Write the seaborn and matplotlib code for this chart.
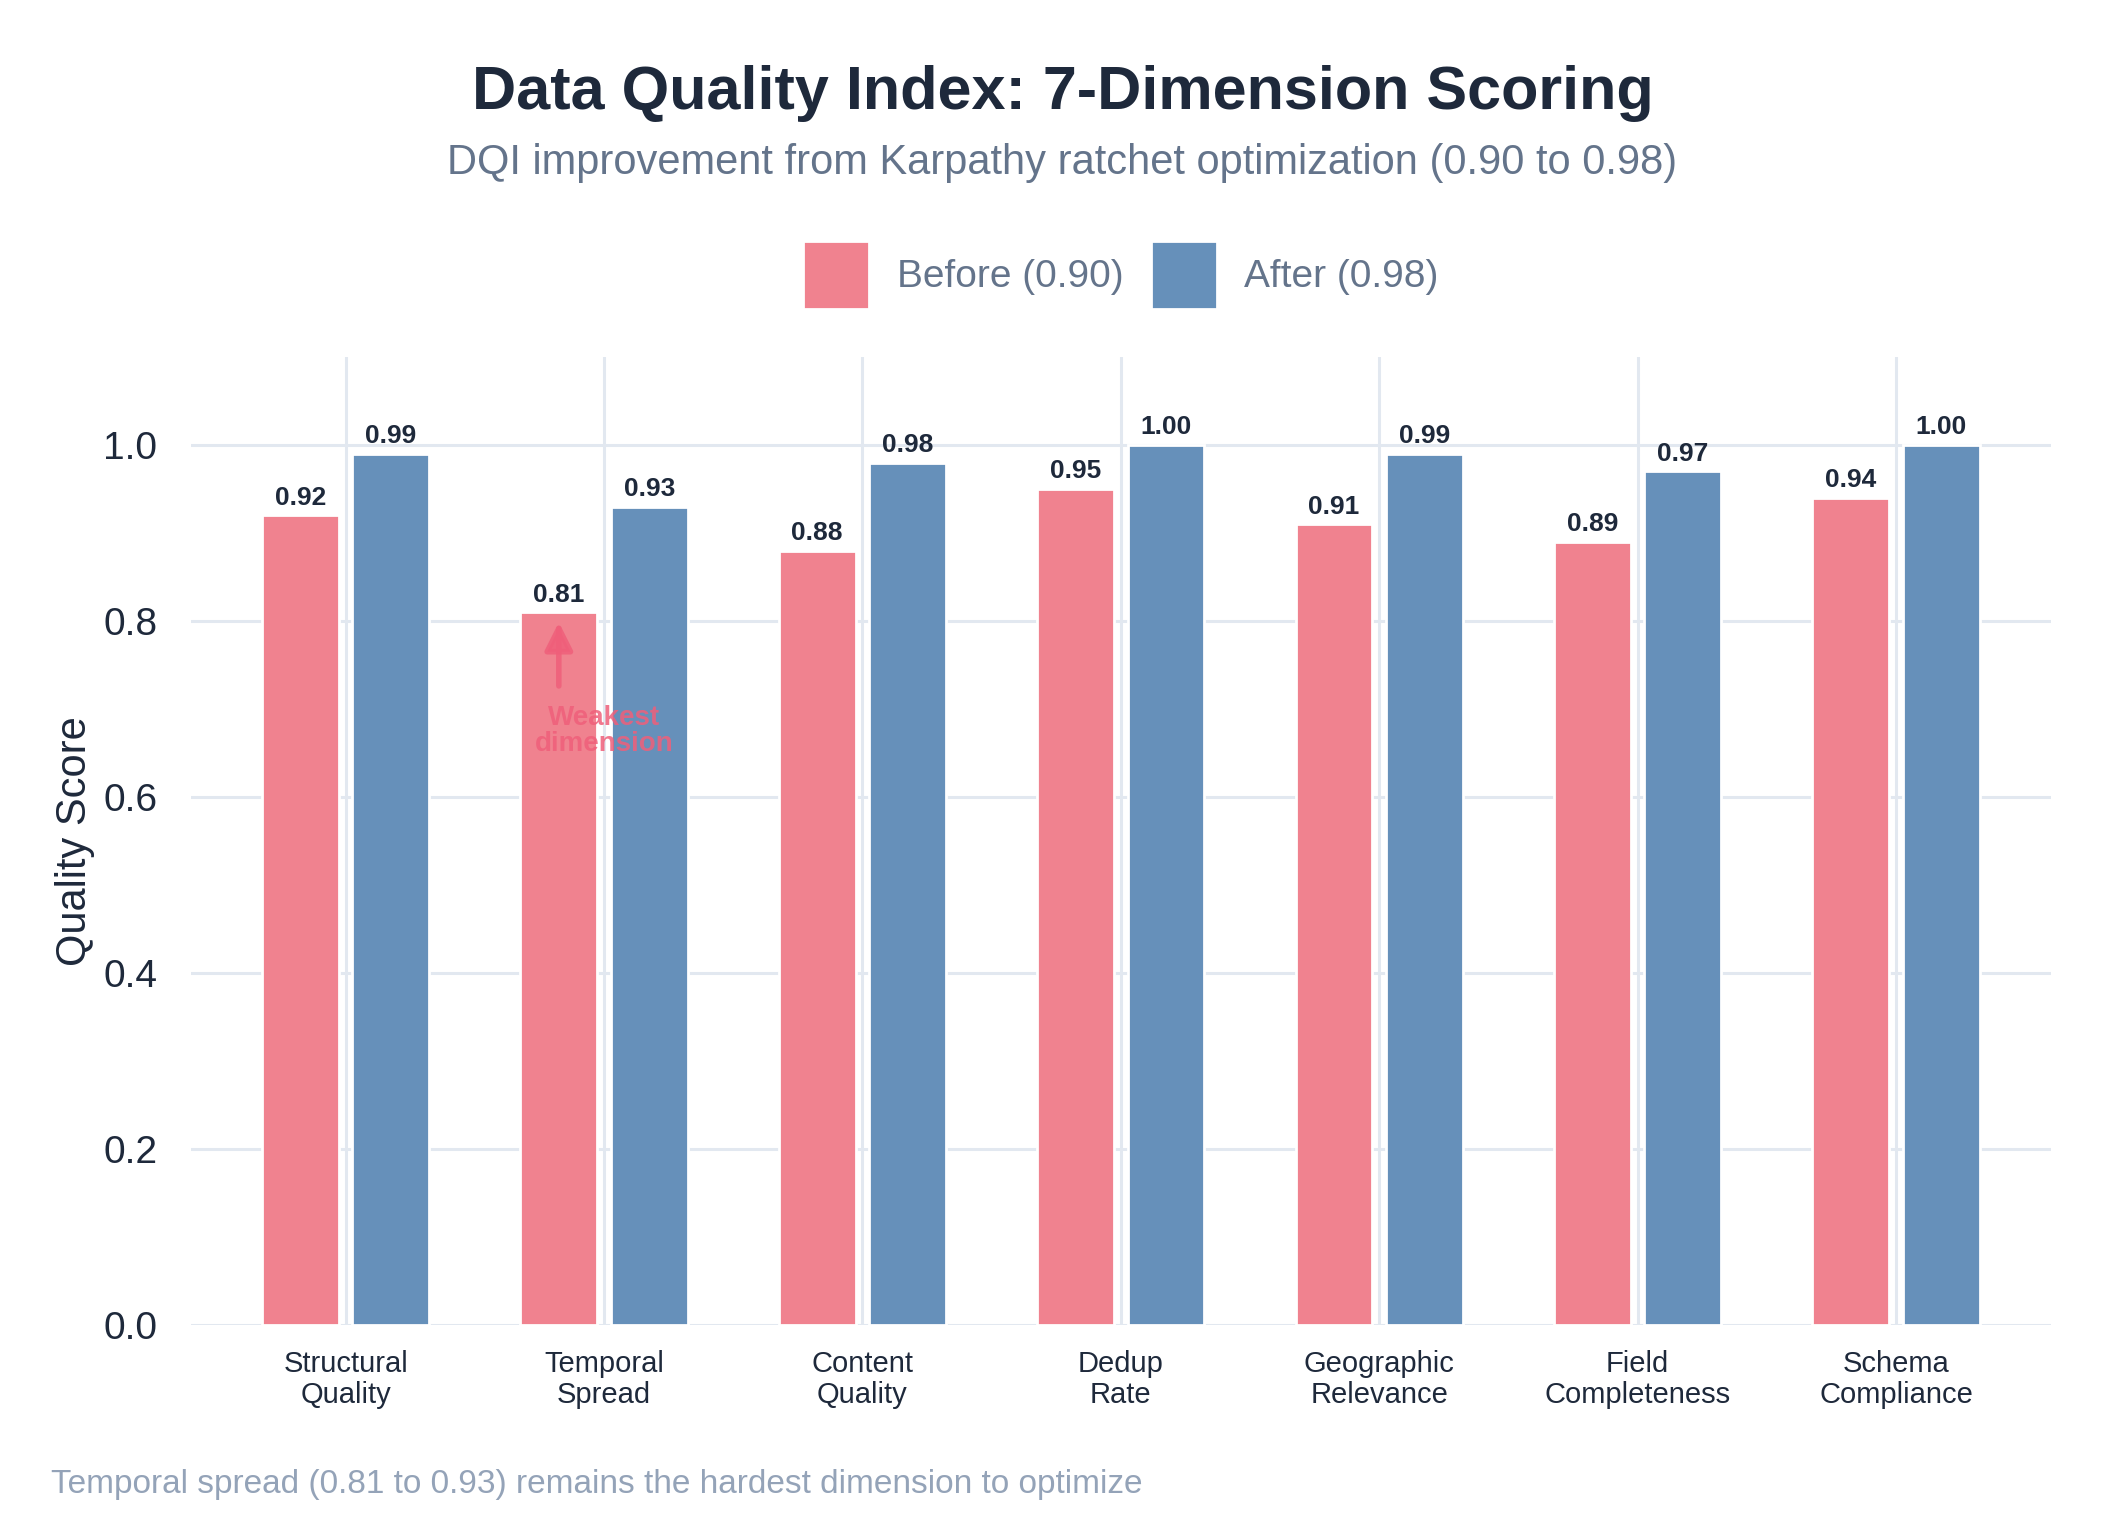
import matplotlib
matplotlib.use("Agg")
import matplotlib.pyplot as plt
import seaborn as sns
import pandas as pd

categories = ["Structural\nQuality", "Temporal\nSpread", "Content\nQuality", "Dedup\nRate",
              "Geographic\nRelevance", "Field\nCompleteness", "Schema\nCompliance"]
before = [0.92, 0.81, 0.88, 0.95, 0.91, 0.89, 0.94]
after = [0.99, 0.93, 0.98, 1.00, 0.99, 0.97, 1.00]
series_names = ["Before (0.90)", "After (0.98)"]
yticks = [0.0, 0.2, 0.4, 0.6, 0.8, 1.0]

sns.set_theme(style="white")
plt.rcParams['font.family'] = ['Liberation Sans', 'DejaVu Sans']

df = pd.DataFrame({
    "Dimension": categories * 2,
    "Score": before + after,
    "Series": [series_names[0]] * len(categories) + [series_names[1]] * len(categories),
})

fig = plt.figure(figsize=(10.625, 7.675), dpi=200)
ax = fig.add_axes([0.0897, 0.1365, 0.8755, 0.631])

palette = {series_names[0]: "#F0828F", series_names[1]: "#6690BA"}
sns.barplot(data=df, x="Dimension", y="Score", hue="Series", palette=palette,
            width=0.7, gap=0.15, ax=ax, saturation=1, zorder=3, legend=True)

ax.set_ylim(0, 1.1)
ax.set_xlim(-0.6, 6.6)
ax.set_yticks(yticks)
ax.set_yticklabels([f"{v:.1f}" for v in yticks], fontsize=14, color="#1e293b")
ax.tick_params(axis="x", labelsize=10.5, colors="#1e293b", length=0, pad=9)
ax.tick_params(axis="y", length=0, pad=12)
for lab in ax.get_xticklabels():
    lab.set_linespacing(1.1)
ax.set_xlabel("")
ax.set_ylabel("Quality Score", fontsize=15, color="#1e293b", labelpad=3)
ax.grid(True, color="#e2e8f0", linewidth=1.1, zorder=0)
ax.set_axisbelow(True)
for s in ax.spines.values():
    s.set_visible(False)

for cont in ax.containers:
    ax.bar_label(cont, fmt="%.2f", padding=2, fontsize=9.5, fontweight="bold", color="#1e293b")

# annotation
ax.annotate("", xy=(1 - 0.175, 0.805), xytext=(1 - 0.175, 0.72),
            arrowprops=dict(arrowstyle="-|>,head_width=0.35,head_length=0.7", color="#EF5F7A",
                            lw=2, alpha=0.85), zorder=5)
ax.text(1.0, 0.675, "Weakest\ndimension", ha="center", va="center", fontsize=10,
        fontweight="bold", color="#EF5F7A", alpha=0.85, linespacing=1.0, zorder=5)

leg = ax.legend(loc="center", ncol=2, frameon=False, fontsize=14,
                handlelength=1.7, handleheight=2.3,
                columnspacing=0.7, handletextpad=0.7)
leg.set_bbox_to_anchor((0.0897 + 0.8755 / 2, 0.821), transform=fig.transFigure)
for t in leg.get_texts():
    t.set_color("#64748b")

fig.text(0.5, 0.939, "Data Quality Index: 7-Dimension Scoring", ha="center", va="center",
         fontsize=22, fontweight="bold", color="#1e293b")
fig.text(0.5, 0.894, "DQI improvement from Karpathy ratchet optimization (0.90 to 0.98)",
         ha="center", va="center", fontsize=15, color="#64748b")
fig.text(0.024, 0.033, "Temporal spread (0.81 to 0.93) remains the hardest dimension to optimize",
         ha="left", va="center", fontsize=12, color="#94a3b8")

fig.savefig("out.png", dpi=200)
